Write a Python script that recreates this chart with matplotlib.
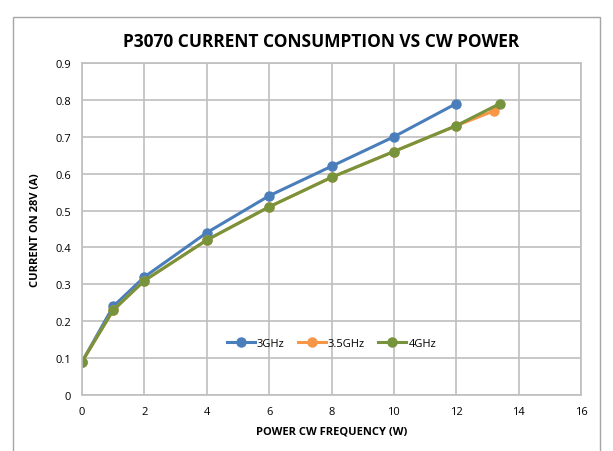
import matplotlib.pyplot as plt
from matplotlib.patches import Rectangle

plt.rcParams['font.family'] = ['Open Sans', 'DejaVu Sans']

x_3g = [0, 1, 2, 4, 6, 8, 10, 12]
y_3g = [0.09, 0.24, 0.32, 0.44, 0.54, 0.62, 0.70, 0.79]
x_35g = [0, 1, 2, 4, 6, 8, 10, 12, 13.2]
y_35g = [0.09, 0.23, 0.31, 0.42, 0.51, 0.59, 0.66, 0.73, 0.77]
x_4g = [0, 1, 2, 4, 6, 8, 10, 12, 13.4]
y_4g = [0.09, 0.23, 0.31, 0.42, 0.51, 0.59, 0.66, 0.73, 0.79]

fig = plt.figure(figsize=(6.13, 4.52), dpi=100)
fig.patches.append(Rectangle((13/613, -0.1), (600-13)/613, 1.1 - 18/452,
                             transform=fig.transFigure, fill=False,
                             edgecolor='#A6A6A6', linewidth=1))
ax = fig.add_axes([82/613, 1 - 396/452, (581-82)/613, (396-64)/452])

ax.plot(x_3g, y_3g, color='#4A7EBB', marker='o', markersize=6.5, linewidth=2.2, label='3GHz')
ax.plot(x_35g, y_35g, color='#F79646', marker='o', markersize=6.5, linewidth=2.2, label='3.5GHz')
ax.plot(x_4g, y_4g, color='#77933C', marker='o', markersize=6.5, linewidth=2.2, label='4GHz')

ax.set_xlim(0, 16)
ax.set_ylim(0, 0.9)
ax.set_xticks(range(0, 17, 2))
ax.set_yticks([i / 10 for i in range(10)])
ax.set_yticklabels(['0'] + ['0.%d' % i for i in range(1, 10)])
ax.grid(True, color='#BFBFBF', linewidth=1.2)
ax.set_axisbelow(True)
for s in ax.spines.values():
    s.set_color('#BFBFBF')
    s.set_linewidth(1.2)
ax.tick_params(length=0, labelsize=8, pad=8)

ax.set_xlabel('POWER CW FREQUENCY (W)', fontsize=8, fontweight='bold', labelpad=6)
ax.set_ylabel('CURRENT ON 28V (A)', fontsize=8, fontweight='bold', labelpad=10)
fig.text(0.524, 1 - 42/452, 'P3070 CURRENT CONSUMPTION VS CW POWER',
         ha='center', va='center', fontsize=12.5, fontweight='bold')

ax.legend(loc='center', bbox_to_anchor=(0.5, 0.155), ncol=3, frameon=False,
          fontsize=8, handlelength=2.5, handletextpad=0.2, columnspacing=1.2)

fig.savefig('out.png', dpi=100)
